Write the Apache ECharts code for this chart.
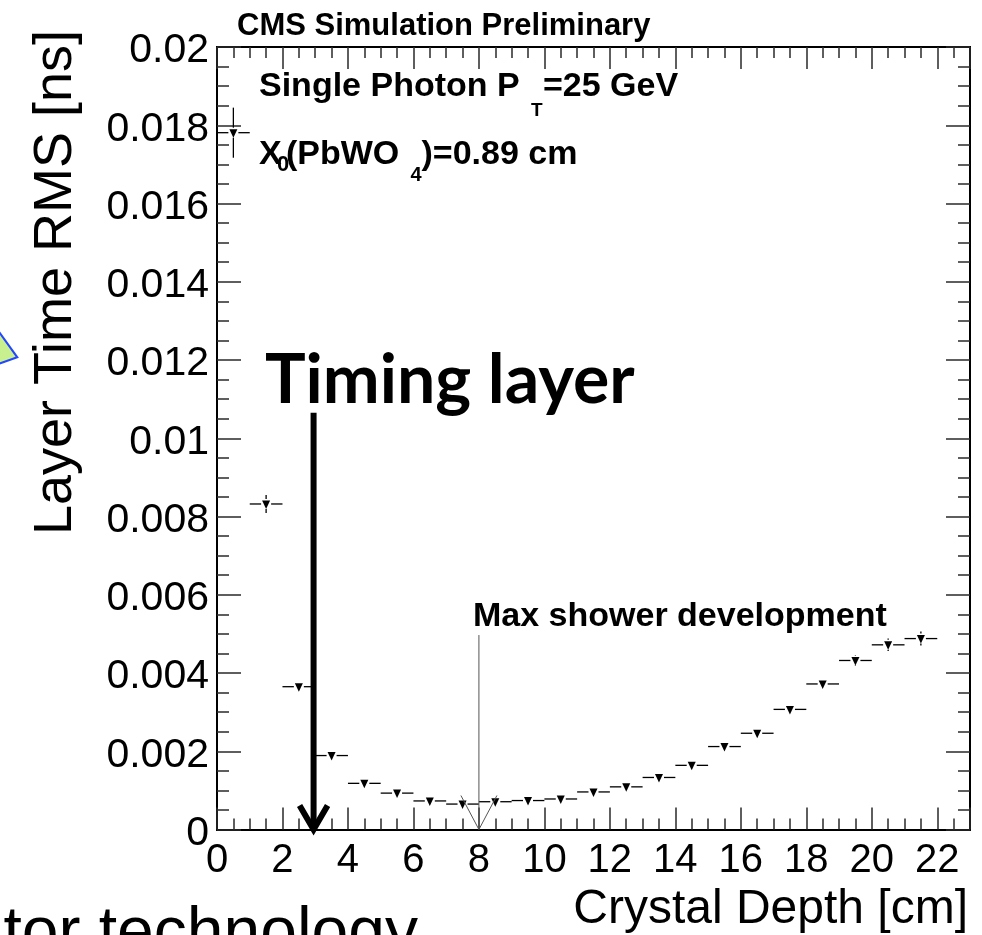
<!DOCTYPE html>
<html>
<head>
<meta charset="utf-8">
<script src="https://cdn.jsdelivr.net/npm/echarts@6/dist/echarts.min.js"></script>
<style>
  html, body { margin: 0; padding: 0; background: #ffffff; }
  #chart { width: 982px; height: 935px; }
</style>
</head>
<body>
<div id="chart"></div>
<script>
// Layer timing RMS versus crystal depth, 1 cm bins
const binCenters = [0.5, 1.5, 2.5, 3.5, 4.5, 5.5, 6.5, 7.5, 8.5, 9.5, 10.5,
                    11.5, 12.5, 13.5, 14.5, 15.5, 16.5, 17.5, 18.5, 19.5, 20.5, 21.5];
const layerRms = [0.01781, 0.00832, 0.00365, 0.00189, 0.00118, 0.00093, 0.00073,
                  0.00065, 0.00071, 0.00074, 0.00078, 0.00096, 0.00109, 0.00133,
                  0.00164, 0.00212, 0.00246, 0.00307, 0.00372, 0.00432, 0.00472, 0.00488];
const rmsErrors = [0.00064, 0.00023, 0.0001, 0.00006, 0.00004, 0.00003, 0.00003,
                   0.00003, 0.00003, 0.00003, 0.00003, 0.00004, 0.00005, 0.00006,
                   0.00007, 0.00008, 0.00009, 0.0001, 0.00012, 0.00014, 0.00016, 0.00018];
const binHalfWidth = 0.5;

// Axis tick labels
const xTickLabels = ['0', '2', '4', '6', '8', '10', '12', '14', '16', '18', '20', '22'];
const yTickLabels = ['0', '0.002', '0.004', '0.006', '0.008', '0.01', '0.012',
                     '0.014', '0.016', '0.018', '0.02'];

// Annotation arrows: [depth, top value, bottom value]
const timingArrow = [[2.95, 0.01065, 0]];
const showerMaxArrow = [[8, 0.00497, 0]];

const FONT = '"Liberation Sans", Arial, Helvetica, sans-serif';
const tickLine = { color: '#2a2a2a', width: 1.5 };

function xAxisDef(position, step, len, labels) {
  return {
    type: 'value', position: position, min: 0, max: 23, interval: step,
    axisLine: { show: true, onZero: false, lineStyle: { color: '#000', width: 2 } },
    axisTick: { show: true, inside: true, length: len, lineStyle: tickLine },
    axisLabel: labels ? {
      show: true, color: '#000', fontFamily: FONT, fontSize: 40, margin: 11,
      formatter: function (v) {
        const k = Math.round(v / 2);
        return (Math.abs(v - 2 * k) < 1e-6 && k < xTickLabels.length) ? xTickLabels[k] : '';
      }
    } : { show: false },
    splitLine: { show: false }
  };
}

function yAxisDef(position, step, len, labels) {
  return {
    type: 'value', position: position, min: 0, max: 0.02, interval: step,
    axisLine: { show: true, onZero: false, lineStyle: { color: '#000', width: 2 } },
    axisTick: { show: true, inside: true, length: len, lineStyle: tickLine },
    axisLabel: labels ? {
      show: true, color: '#000', fontFamily: FONT, fontSize: 41, margin: 8,
      // labels sit a few pixels below their ticks
      verticalAlign: 'top', lineHeight: 8,
      formatter: function (v) {
        const k = Math.round(v / 0.002);
        return (Math.abs(v - 0.002 * k) < 1e-7 && k < yTickLabels.length) ? yTickLabels[k] : '';
      }
    } : { show: false },
    splitLine: { show: false }
  };
}

// Error bars with a down-pointing triangle marker at each bin centre
function renderPoint(params, api) {
  const x = api.value(0), y = api.value(1), e = api.value(2);
  const c = api.coord([x, y]);
  const l = api.coord([x - binHalfWidth, y]);
  const r = api.coord([x + binHalfWidth, y]);
  const t = api.coord([x, y + e]);
  const b = api.coord([x, y - e]);
  const gap = 5;
  const st = { stroke: '#000', lineWidth: 1.3 };
  const children = [
    { type: 'line', shape: { x1: l[0], y1: c[1], x2: c[0] - gap, y2: c[1] }, style: st },
    { type: 'line', shape: { x1: c[0] + gap, y1: c[1], x2: r[0], y2: c[1] }, style: st }
  ];
  if (c[1] - t[1] > gap) {
    children.push({ type: 'line', shape: { x1: c[0], y1: t[1], x2: c[0], y2: c[1] - gap }, style: st });
    children.push({ type: 'line', shape: { x1: c[0], y1: c[1] + gap, x2: c[0], y2: b[1] }, style: st });
  }
  children.push({
    type: 'polygon',
    shape: { points: [[c[0] - 4, c[1] - 3.5], [c[0] + 4, c[1] - 3.5], [c[0], c[1] + 5]] },
    style: { fill: '#000' }
  });
  return { type: 'group', children: children };
}

function arrowRenderer(width, armDx, armDy, color) {
  return function (params, api) {
    const top = api.coord([api.value(0), api.value(1)]);
    const tip = api.coord([api.value(0), api.value(2)]);
    return {
      type: 'group',
      children: [
        { type: 'line', shape: { x1: top[0], y1: top[1], x2: tip[0], y2: tip[1] - width * 0.5 },
          style: { stroke: color, lineWidth: width } },
        { type: 'polyline',
          shape: { points: [[tip[0] - armDx, tip[1] - armDy], [tip[0], tip[1]], [tip[0] + armDx, tip[1] - armDy]] },
          style: { stroke: color, lineWidth: width, fill: null, lineJoin: 'miter' } }
      ]
    };
  };
}

const chart = echarts.init(document.getElementById('chart'), null, { width: 982, height: 935 });

function txt(text, x, y, size, opts) {
  opts = opts || {};
  return {
    type: 'text', x: x, y: y, rotation: opts.rotation || 0, z: 10,
    style: {
      text: text, fill: '#000',
      font: (opts.weight || 'normal') + ' ' + size + 'px ' + (opts.family || FONT),
      align: opts.align || 'left', verticalAlign: 'middle'
    }
  };
}

chart.setOption({
  backgroundColor: '#ffffff',
  animation: false,
  grid: { left: 217, top: 47, width: 753, height: 782.5, containLabel: false },
  xAxis: [
    xAxisDef('bottom', 0.5, 11, true),
    xAxisDef('bottom', 2, 22, false),
    xAxisDef('top', 0.5, 11, false),
    xAxisDef('top', 2, 22, false)
  ],
  yAxis: [
    yAxisDef('left', 0.0005, 12, true),
    yAxisDef('left', 0.002, 24, false),
    yAxisDef('right', 0.0005, 12, false),
    yAxisDef('right', 0.002, 24, false)
  ],
  series: [
    {
      type: 'custom', name: 'Layer Time RMS', xAxisIndex: 0, yAxisIndex: 0,
      renderItem: renderPoint,
      encode: { x: 0, y: 1 },
      data: binCenters.map(function (x, i) { return [x, layerRms[i], rmsErrors[i]]; })
    },
    {
      type: 'custom', name: 'Max shower development', xAxisIndex: 0, yAxisIndex: 0,
      renderItem: arrowRenderer(1, 18, 34, '#555'),
      encode: { x: 0, y: [1, 2] },
      data: showerMaxArrow
    },
    {
      type: 'custom', name: 'Timing layer', xAxisIndex: 0, yAxisIndex: 0,
      renderItem: arrowRenderer(6, 14, 24, '#000'),
      encode: { x: 0, y: [1, 2] },
      data: timingArrow
    }
  ],
  graphic: [
    // partially visible pointer at the left edge
    { type: 'polygon', z: 10,
      shape: { points: [[-12, 316.7], [17.3, 357.3], [-12, 367.5]] },
      style: { fill: '#c9f08f', stroke: '#2346ff', lineWidth: 2 } },
    txt('CMS Simulation Preliminary', 237, 26.5, 31, { weight: 'bold' }),
    txt('Single Photon P', 259, 86.5, 34, { weight: 'bold' }),
    txt('T', 531, 111, 19, { weight: 'bold' }),
    txt('=25 GeV', 543, 86.5, 34, { weight: 'bold' }),
    txt('X', 259, 155, 34, { weight: 'bold' }),
    txt('0', 277, 164.5, 22, { weight: 'bold' }),
    txt('(PbWO', 286, 155, 34, { weight: 'bold' }),
    txt('4', 410.5, 175, 20, { weight: 'bold' }),
    txt(')=0.89 cm', 421.5, 155, 34, { weight: 'bold' }),
    txt('Max shower development', 473, 616.5, 34, { weight: 'bold' }),
    txt('Timing layer', 265, 381, 68, { weight: 'bold', family: 'Lato, "Open Sans", sans-serif' }),
    txt('Crystal Depth [cm]', 968, 910, 48, { align: 'right' }),
    txt('Layer Time RMS [ns]', 56, 535, 54, { rotation: Math.PI / 2 }),
    txt('tor technology', 418, 935, 66, { align: 'right' })
  ]
});
</script>
</body>
</html>
